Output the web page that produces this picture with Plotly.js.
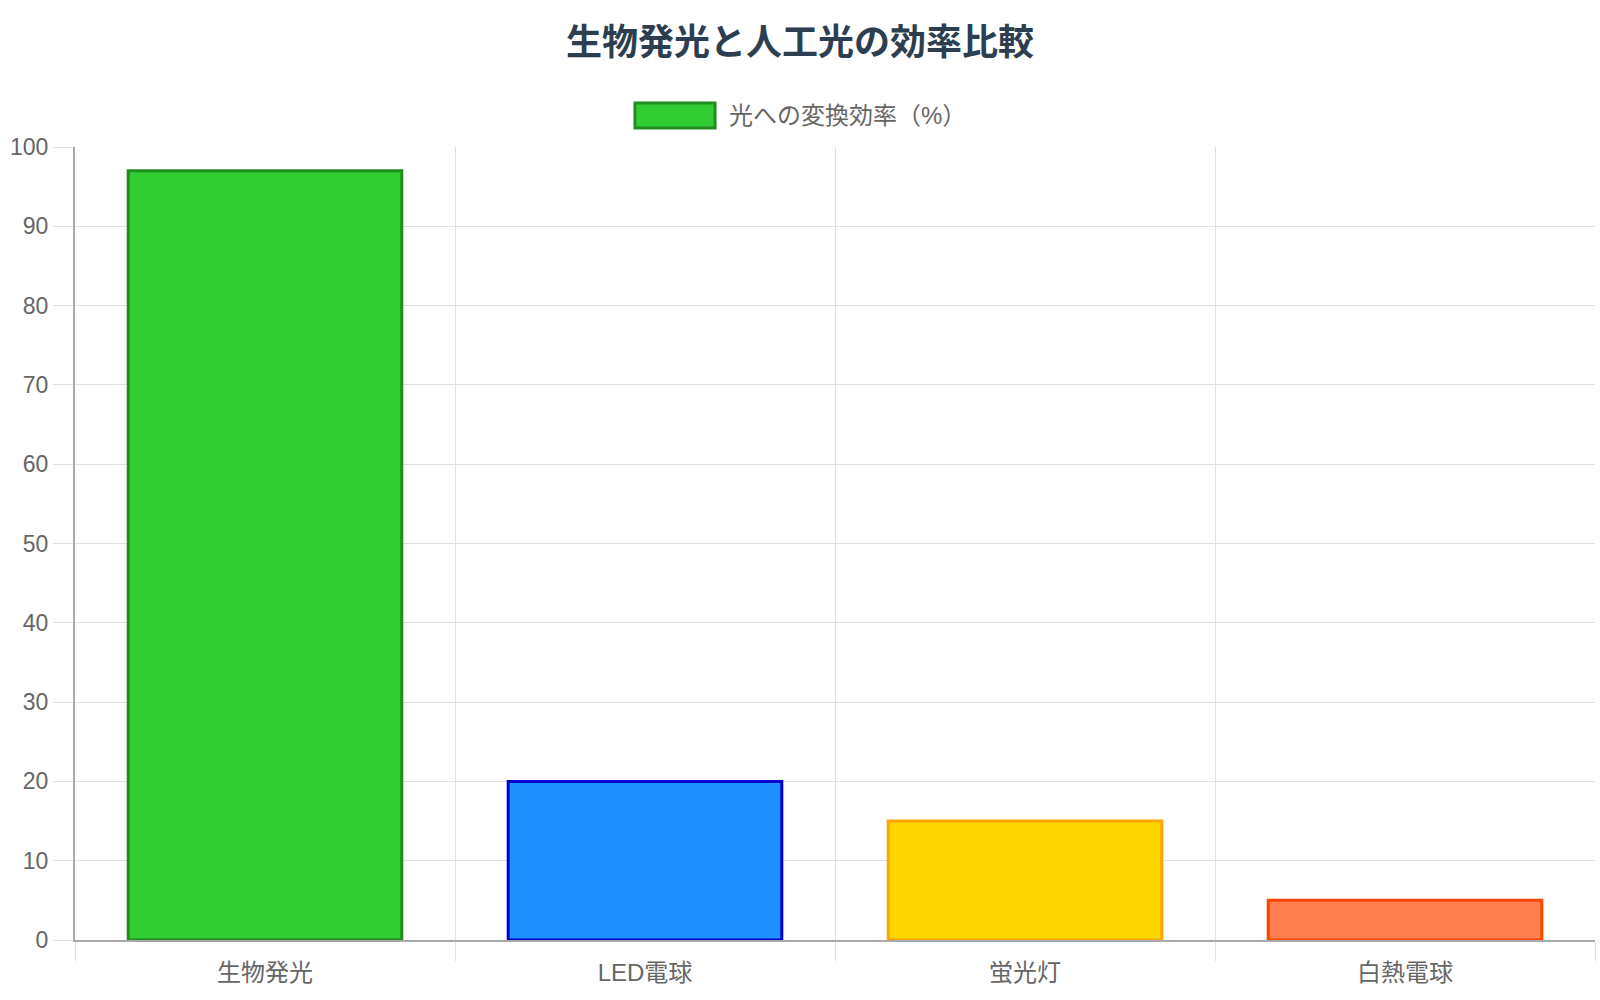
<!DOCTYPE html>
<html>
<head>
<meta charset="utf-8">
<script src="https://cdn.plot.ly/plotly-3.0.1.min.js"></script>
<style>
  html, body { margin: 0; padding: 0; background: #fff; }
  #chart { width: 1600px; height: 1000px; }
</style>
</head>
<body>
<div id="chart"></div>
<script>
// data
const categories = ["生物発光", "LED電球", "蛍光灯", "白熱電球"];
const efficiency = [97, 20, 15, 5];
const seriesName = "光への変換効率（%）";
const fillColors = ["#32CD32", "#1E90FF", "#FFD700", "#FF7F50"];
const lineColors = ["#228B22", "#0000CD", "#FFA500", "#FF4500"];

const font = "'Liberation Sans', Arial, 'Noto Sans CJK JP', sans-serif";

let trace = {
  x: categories,
  y: efficiency,
  type: "bar",
  name: seriesName,
  marker: {
    color: fillColors,
    line: { color: lineColors, width: 3 }
  },
  hoverinfo: "x+y",
  showlegend: false
};

// plot area: x 75..1595, y 147..940
let layout = {
  width: 1600,
  height: 1000,
  margin: { l: 75, r: 5, t: 147, b: 60 },
  paper_bgcolor: "#fff",
  plot_bgcolor: "#fff",
  font: { family: font, color: "#666" },
  title: {
    text: "<b>生物発光と人工光の効率比較</b>",
    font: { family: font, size: 36, color: "#2c3e50" },
    x: 0.5, xref: "container", xanchor: "center",
    y: 0.958, yref: "container", yanchor: "middle"
  },
  bargap: 0.28,
  xaxis: {
    type: "category",
    tickson: "boundaries",
    ticks: "outside",
    ticklen: 19,
    tickcolor: "#e0e0e0",
    tickwidth: 1,
    ticklabelstandoff: 10,
    showgrid: true,
    gridcolor: "#e0e0e0",
    showline: true,
    linecolor: "#aaa",
    linewidth: 2,
    tickfont: { size: 24, color: "#666" }
  },
  yaxis: {
    range: [0, 100],
    dtick: 10,
    ticks: "outside",
    ticklen: 20,
    tickcolor: "#e0e0e0",
    showgrid: true,
    gridcolor: "#e0e0e0",
    zeroline: false,
    showline: true,
    linecolor: "#aaa",
    linewidth: 2,
    tickfont: { size: 23, color: "#666" }
  },
  shapes: [{
    type: "rect",
    xref: "paper", yref: "paper",
    x0: 0.3684, x1: 0.4211,
    y0: 1.024, y1: 1.0555,
    fillcolor: fillColors[0],
    line: { color: lineColors[0], width: 3 }
  }],
  annotations: [{
    text: seriesName,
    xref: "paper", yref: "paper",
    x: 0.4289, y: 1.0397,
    xanchor: "left", yanchor: "middle",
    showarrow: false,
    font: { family: font, size: 24, color: "#666" }
  }]
};

Plotly.newPlot("chart", [trace], layout, { displayModeBar: false });
</script>
</body>
</html>
